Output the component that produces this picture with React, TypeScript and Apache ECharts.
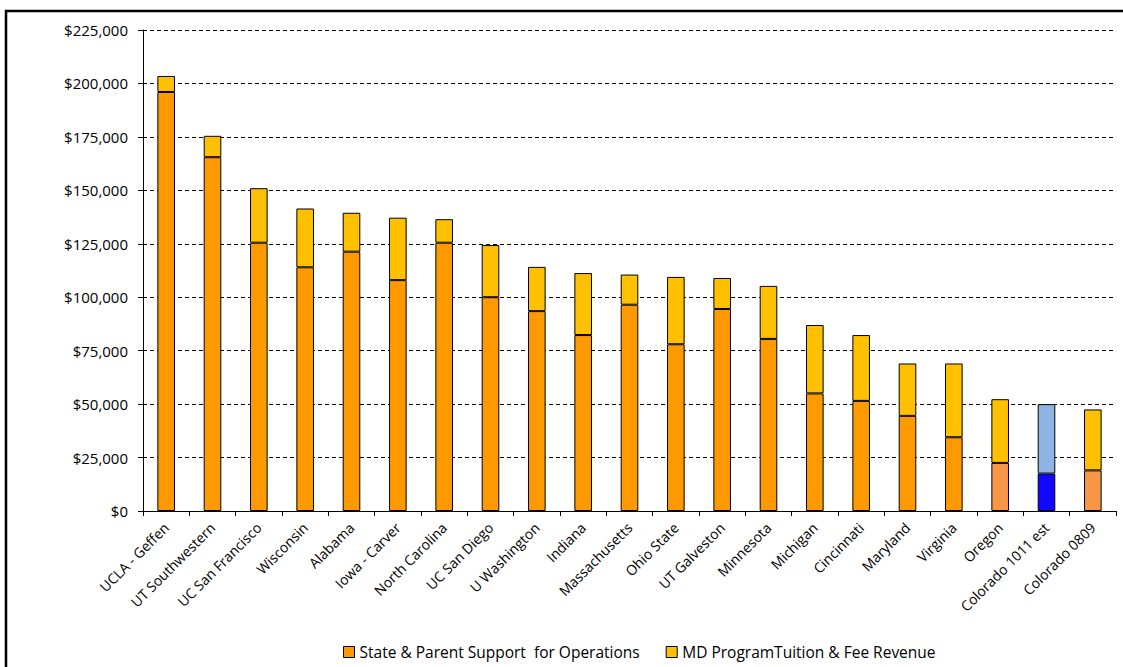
import React, { useEffect, useRef } from "react";
import * as echarts from "echarts";

const categories = [
  "UCLA - Geffen", "UT Southwestern", "UC San Francisco", "Wisconsin", "Alabama",
  "Iowa - Carver", "North Carolina", "UC San Diego", "U Washington", "Indiana",
  "Massachusetts", "Ohio State", "UT Galveston", "Minnesota", "Michigan",
  "Cincinnati", "Maryland", "Virginia", "Oregon", "Colorado 1011 est", "Colorado 0809",
];

const stateSupport = [
  196000, 165500, 125500, 114000, 121300, 108000, 125500, 100000, 93500, 82300,
  96500, 78000, 94500, 80500, 55000, 51500, 44500, 34500, 22500, 17500, 19000,
];

const tuitionRevenue = [
  7500, 10000, 25500, 27500, 18200, 29200, 11000, 24400, 20700, 29000,
  14100, 31500, 14500, 24800, 32000, 30800, 24500, 34500, 29800, 32500, 28500,
];

const yTicks = [0, 25000, 50000, 75000, 100000, 125000, 150000, 175000, 200000, 225000];

const seriesNames = ["State & Parent Support  for Operations", "MD ProgramTuition & Fee Revenue"];

const stateColor = "#FF9900";
const tuitionColor = "#FFC000";
const highlightState: Record<string, string> = {
  "Oregon": "#F79646",
  "Colorado 1011 est": "#1008FF",
  "Colorado 0809": "#F79646",
};
const highlightTuition: Record<string, string> = {
  "Colorado 1011 est": "#8DB4E2",
};

const FONT = "'Open Sans', 'Noto Sans', sans-serif";

export default function App() {
  const ref = useRef<HTMLDivElement>(null);
  useEffect(() => {
    if (!ref.current) return;
    const chart = echarts.init(ref.current, undefined, { renderer: "svg" });
    const fmt = (v: number) => "$" + v.toLocaleString("en-US");
    chart.setOption({
      animation: false,
      backgroundColor: "#ffffff",
      graphic: [
        {
          type: "rect",
          shape: { x: 6, y: 11, width: 1130, height: 680 },
          style: { fill: "none", stroke: "#000", lineWidth: 2.5 },
          silent: true,
        },
      ],
      legend: {
        bottom: 2,
        left: 338,
        itemWidth: 11,
        itemHeight: 11,
        itemGap: 26,
        icon: "rect",
        textStyle: { fontFamily: FONT, fontSize: 15.5, color: "#000" },
        data: seriesNames.map((n, i) => ({
          name: n,
          itemStyle: { color: i === 0 ? stateColor : tuitionColor, borderColor: "#000", borderWidth: 1 },
        })),
      },
      grid: { left: 143, right: 7, top: 30, bottom: 156, containLabel: false },
      xAxis: {
        type: "category",
        data: categories,
        axisLine: { lineStyle: { color: "#000", width: 1 } },
        axisTick: { show: true, alignWithLabel: false, length: 5, lineStyle: { color: "#000" } },
        axisLabel: {
          rotate: 45,
          interval: 0,
          fontFamily: FONT,
          fontSize: 14,
          color: "#000",
          margin: 14,
        },
      },
      yAxis: {
        type: "value",
        min: 0,
        max: 225000,
        interval: 25000,
        axisLine: { show: true, lineStyle: { color: "#000", width: 1 } },
        axisTick: { show: true, length: 5, lineStyle: { color: "#000" } },
        axisLabel: {
          fontFamily: FONT,
          fontSize: 15,
          color: "#000",
          margin: 15,
          formatter: (v: number) => (yTicks.includes(v) ? fmt(v) : ""),
        },
        splitLine: { show: true, lineStyle: { color: "#000", type: [4, 3], width: 1 } },
      },
      series: [
        {
          name: seriesNames[0],
          type: "bar",
          stack: "total",
          barWidth: "38%",
          itemStyle: { color: stateColor, borderColor: "#000", borderWidth: 1 },
          data: stateSupport.map((v, i) => {
            const c = highlightState[categories[i]];
            return c ? { value: v, itemStyle: { color: c } } : v;
          }),
        },
        {
          name: seriesNames[1],
          type: "bar",
          stack: "total",
          barWidth: "38%",
          itemStyle: { color: tuitionColor, borderColor: "#000", borderWidth: 1 },
          data: tuitionRevenue.map((v, i) => {
            const c = highlightTuition[categories[i]];
            return c ? { value: v, itemStyle: { color: c } } : v;
          }),
        },
      ],
    });
    return () => chart.dispose();
  }, []);
  return <div ref={ref} style={{ width: 1123, height: 667, position: "absolute", left: 0, top: 0 }} />;
}
